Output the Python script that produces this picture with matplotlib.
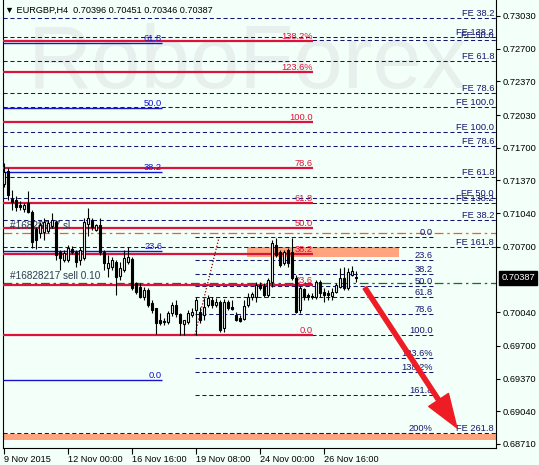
import numpy as np
import matplotlib.pyplot as plt
import matplotlib.transforms as mtransforms
from matplotlib.patches import Rectangle

plt.rcParams['font.family'] = ['Liberation Sans', 'DejaVu Sans']

# EURGBP H4 candles, bar 0 = 9 Nov 2015
opens = [0.71335, 0.71466, 0.71184, 0.71173, 0.71123, 0.71083, 0.71143, 0.71052, 0.70881, 0.70840,
         0.70850, 0.70861, 0.70911, 0.70951, 0.70649, 0.70568, 0.70568, 0.70679, 0.70649, 0.70568,
         0.70588, 0.70931, 0.70972, 0.70871, 0.70921, 0.70649, 0.70487, 0.70497, 0.70548, 0.70407,
         0.70467, 0.70548, 0.70578, 0.70336, 0.70296, 0.70195, 0.70265, 0.70134, 0.70083, 0.69963,
         0.69952, 0.69942, 0.70033, 0.70114, 0.70023, 0.69922, 0.69942, 0.70013, 0.70063, 0.70043,
         0.70013, 0.70114, 0.70164, 0.70114, 0.70144, 0.69882, 0.70144, 0.70094, 0.70013, 0.69983,
         0.69973, 0.70114, 0.70195, 0.70195, 0.70316, 0.70306, 0.70215, 0.70346, 0.70719, 0.70649,
         0.70538, 0.70669, 0.70649, 0.70387, 0.70063, 0.70275, 0.70215, 0.70205, 0.70195, 0.70346,
         0.70245, 0.70235, 0.70205, 0.70245, 0.70296, 0.70387, 0.70286, 0.70417, 0.70396]
highs = [0.71547, 0.71496, 0.71274, 0.71214, 0.71163, 0.71143, 0.71264, 0.71072, 0.70901, 0.70951,
         0.70992, 0.70972, 0.71042, 0.70972, 0.70669, 0.70669, 0.70719, 0.70709, 0.70669, 0.70699,
         0.70992, 0.71093, 0.70992, 0.70931, 0.70992, 0.70669, 0.70618, 0.70598, 0.70568, 0.70548,
         0.70669, 0.70699, 0.70598, 0.70346, 0.70336, 0.70296, 0.70286, 0.70164, 0.70083, 0.70033,
         0.69983, 0.70053, 0.70144, 0.70164, 0.70033, 0.69963, 0.70063, 0.70083, 0.70195, 0.70094,
         0.70185, 0.70215, 0.70195, 0.70185, 0.70164, 0.70174, 0.70164, 0.70164, 0.70043, 0.70013,
         0.70164, 0.70235, 0.70245, 0.70346, 0.70346, 0.70336, 0.70387, 0.70770, 0.70790, 0.70669,
         0.70669, 0.70689, 0.70790, 0.70417, 0.70306, 0.70286, 0.70235, 0.70235, 0.70366, 0.70366,
         0.70286, 0.70265, 0.70286, 0.70336, 0.70487, 0.70497, 0.70487, 0.70508, 0.70451]
lows = [0.71305, 0.71173, 0.71072, 0.71062, 0.71072, 0.71052, 0.71042, 0.70689, 0.70679, 0.70790,
        0.70770, 0.70840, 0.70891, 0.70568, 0.70467, 0.70548, 0.70548, 0.70629, 0.70497, 0.70518,
        0.70568, 0.70810, 0.70871, 0.70861, 0.70618, 0.70467, 0.70397, 0.70467, 0.70215, 0.70366,
        0.70447, 0.70528, 0.70265, 0.70225, 0.70185, 0.70164, 0.70094, 0.70033, 0.69821, 0.69912,
        0.69912, 0.69922, 0.70003, 0.69993, 0.69811, 0.69811, 0.69922, 0.69993, 0.69811, 0.69932,
        0.69963, 0.70094, 0.70083, 0.70094, 0.69841, 0.69841, 0.70063, 0.70063, 0.69952, 0.69942,
        0.69963, 0.70094, 0.70164, 0.70144, 0.70265, 0.70195, 0.70195, 0.70296, 0.70598, 0.70497,
        0.70518, 0.70497, 0.70366, 0.70033, 0.70033, 0.70164, 0.70164, 0.70174, 0.70174, 0.70195,
        0.70144, 0.70164, 0.70164, 0.70235, 0.70286, 0.70265, 0.70265, 0.70407, 0.70346]
closes = [0.71456, 0.71224, 0.71153, 0.71103, 0.71103, 0.71123, 0.71052, 0.70750, 0.70770, 0.70921,
          0.70951, 0.70941, 0.70972, 0.70618, 0.70588, 0.70639, 0.70689, 0.70649, 0.70548, 0.70669,
          0.70951, 0.70992, 0.70901, 0.70921, 0.70649, 0.70538, 0.70538, 0.70568, 0.70397, 0.70487,
          0.70588, 0.70598, 0.70286, 0.70245, 0.70195, 0.70265, 0.70114, 0.70063, 0.69932, 0.69932,
          0.69942, 0.70033, 0.70114, 0.70023, 0.69932, 0.69963, 0.70033, 0.70043, 0.70164, 0.69963,
          0.70094, 0.70185, 0.70114, 0.70144, 0.69862, 0.70144, 0.70083, 0.70073, 0.69963, 0.69952,
          0.70104, 0.70195, 0.70225, 0.70316, 0.70286, 0.70215, 0.70366, 0.70740, 0.70618, 0.70518,
          0.70649, 0.70538, 0.70387, 0.70043, 0.70286, 0.70195, 0.70195, 0.70195, 0.70346, 0.70235,
          0.70215, 0.70215, 0.70245, 0.70316, 0.70387, 0.70286, 0.70447, 0.70457, 0.70387]

date_ticks = [0, 16, 32, 48, 64, 80]
date_labels = ['9 Nov 2015', '12 Nov 00:00', '16 Nov 16:00', '19 Nov 08:00', '24 Nov 00:00', '26 Nov 16:00']
price_ticks = [0.73030, 0.72700, 0.72370, 0.72030, 0.71700, 0.71370, 0.71040,
               0.70700, 0.70040, 0.69700, 0.69370, 0.69040, 0.68710]
last_price = 0.70387

# fibo retracement (red)
red_levels = [0, 23.6, 38.2, 50, 61.8, 78.6, 100, 123.6, 138.2]
red_labels = ['0.0', '23.6', '38.2', '50.0', '61.8', '78.6', '100.0', '123.6%', '138.2%']
red_p0, red_p100 = 0.69811, 0.71960

# fibo retracement (blue)
blue_levels = [0, 23.6, 38.2, 50, 61.8]
blue_labels = ['0.0', '23.6', '38.2', '50.0', '61.8']
blue_p0, blue_p100 = 0.69357, 0.74851

# fibo expansions (navy, ray to the right)
fe1_levels = [38.2, 50, 61.8, 78.6, 100, 138.2, 161.8, 261.8]
fe1_p0, fe1_p100 = 0.73729, 0.71854
fe2_levels = [38.2, 50, 61.8, 78.6, 100, 138.2]
fe2_p0, fe2_p100 = 0.70265, 0.72115

# local retracement (navy)
loc_levels = [0, 23.6, 38.2, 50, 61.8, 78.6, 100, 123.6, 138.2, 161.8, 200]
loc_labels = ['0.0', '23.6', '38.2', '50.0', '61.8', '78.6', '100.0', '123.6%', '138.2%', '161.8', '200%']
loc_p0, loc_p100 = 0.70800, 0.69811

sell_price = 0.70339
sl_price = 0.70837
zone_up = (0.70598, 0.70699)
zone_down = (0.68751, 0.68812)

bg = '#F3FFF9'
navy = '#16166e'
red = '#DC143C'
blue = '#1515CC'

fig = plt.figure(figsize=(5.39, 4.65), dpi=100, facecolor=bg)
ax = fig.add_axes([3 / 539, 17.5 / 465, 493 / 539, 447.5 / 465], facecolor=bg)
x0, x1 = -0.175, 123.075
ax.set_xlim(x0, x1)
ax.set_ylim(0.68674, 0.73191)

# watermark
ax.text(0.495, 0.855, 'RoboForex', transform=ax.transAxes, fontsize=64, color='#E7F0ED',
        ha='center', va='center', zorder=0)

# zones
ax.add_patch(Rectangle((60.75, zone_up[0]), 38.0, zone_up[1] - zone_up[0],
                       facecolor='#FFA47E', edgecolor='none', zorder=1))
ax.add_patch(Rectangle((x0, zone_down[0]), x1 - x0, zone_down[1] - zone_down[0],
                       facecolor='#FFA47E', edgecolor='none', zorder=1))

dash = (0, (4, 2.6))
fs = 6.7
right_lbl = 122.6

for lv in fe1_levels:
    p = fe1_p0 + (fe1_p100 - fe1_p0) * lv / 100
    ax.hlines(p, x0, x1, color=navy, lw=0.75, linestyle=dash, zorder=2)
    ax.text(right_lbl, p, 'FE %.1f' % lv, color=navy, fontsize=fs, ha='right', va='bottom', zorder=4)
for lv in fe2_levels:
    p = fe2_p0 + (fe2_p100 - fe2_p0) * lv / 100
    ax.hlines(p, x0, x1, color=navy, lw=0.75, linestyle=dash, zorder=2)
    ax.text(right_lbl, p, 'FE %.1f' % lv, color=navy, fontsize=fs, ha='right', va='bottom', zorder=4)

for lv, lb in zip(loc_levels, loc_labels):
    p = loc_p0 + (loc_p100 - loc_p0) * lv / 100
    ax.hlines(p, 47.8, 107.3, color=navy, lw=0.75, linestyle=dash, zorder=2)
    ax.text(107.3, p, lb, color=navy, fontsize=fs, ha='right', va='bottom', zorder=4)

for lv, lb in zip(red_levels, red_labels):
    p = red_p0 + (red_p100 - red_p0) * lv / 100
    ax.hlines(p, x0, 77.3, color=red, lw=1.6, zorder=3)
    ax.text(77.3, p, lb, color=red, fontsize=fs, ha='right', va='bottom', zorder=4)

for lv, lb in zip(blue_levels, blue_labels):
    p = blue_p0 + (blue_p100 - blue_p0) * lv / 100
    ax.hlines(p, x0, 39.6, color=blue, lw=1.0, zorder=3)
    ax.text(39.6, p, lb, color=blue, fontsize=fs, ha='right', va='bottom', zorder=4)

# expansion trend line
ax.plot([47.8, 53.8], [loc_p100, 0.70790], color='#8B0000', lw=0.9, linestyle=(0, (1, 1.5)), zorder=3)

# order lines
ax.hlines(sell_price, x0, x1, color='#008000', lw=0.9, linestyle=(0, (7, 3, 2, 3)), zorder=2)
ax.hlines(sl_price, x0, x1, color='#FF5A1E', lw=0.9, linestyle=(0, (7, 3, 2, 3)), zorder=2)
ax.text(1.6, sell_price + 0.0002, '#16828217 sell 0.10', color='#2F3A4F', fontsize=7.2, va='bottom', zorder=4)
ax.text(1.6, sl_price + 0.0002, '#16828217 sl', color='#2F3A4F', fontsize=7.2, va='bottom', zorder=4)

# candles
o = np.array(opens)
h = np.array(highs)
l = np.array(lows)
c = np.array(closes)
x = np.arange(len(o))
up = c >= o
ax.vlines(x, l, h, color='black', lw=0.8, zorder=5)
ax.bar(x[up], c[up] - o[up], bottom=o[up], width=0.5, color='white', edgecolor='black', lw=0.8, zorder=6)
ax.bar(x[~up], c[~up] - o[~up], bottom=o[~up], width=0.5, color='black', edgecolor='black', lw=0.8, zorder=6)

# forecast arrow
ax.annotate('', xy=(113.3, 0.68873), xytext=(90.3, 0.70286),
            arrowprops=dict(facecolor='#EE1C25', edgecolor='#EE1C25', width=3, headwidth=17,
                            headlength=24, shrink=0), zorder=7)

# title
ax.text(0.004, 0.978, '\u25bc EURGBP,H4  0.70396 0.70451 0.70346 0.70387', transform=ax.transAxes,
        fontsize=6.6, color='black', va='center', ha='left', zorder=8)

# axes
ax.spines['top'].set_visible(False)
for s in ['left', 'right', 'bottom']:
    ax.spines[s].set_color('black')
    ax.spines[s].set_linewidth(0.8)
ax.yaxis.tick_right()
ax.set_yticks(price_ticks)
ax.set_yticklabels(['%.5f' % p for p in price_ticks])
ax.tick_params(axis='y', length=3, width=0.8, pad=2, labelsize=6.7)
ax.set_xticks(date_ticks)
ax.set_xticklabels(date_labels, ha='left')
ax.tick_params(axis='x', length=4, width=0.8, pad=1.5, labelsize=6.6)

trans = mtransforms.blended_transform_factory(ax.transAxes, ax.transData)
ax.text(1.011, last_price, '%.5f' % last_price, transform=trans, color='white', fontsize=6.7,
        va='center', ha='left', bbox=dict(facecolor='black', edgecolor='black', pad=1.6),
        clip_on=False, zorder=9)

fig.savefig('out.png', dpi=100, facecolor=bg)
